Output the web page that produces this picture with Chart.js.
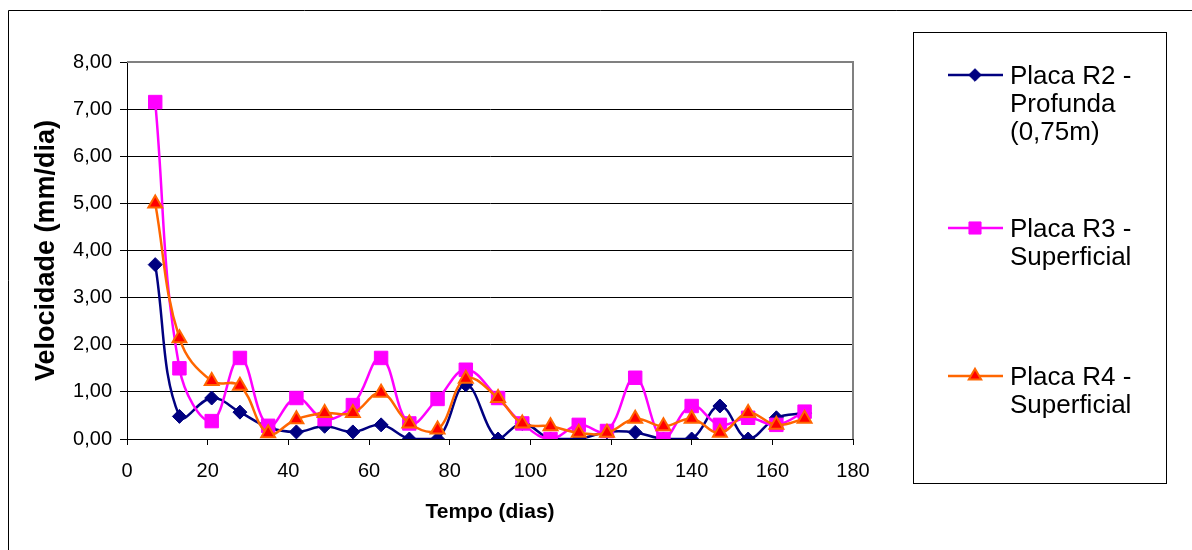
<!DOCTYPE html>
<html>
<head>
<meta charset="utf-8">
<script src="https://cdn.jsdelivr.net/npm/chart.js@4/dist/chart.umd.min.js"></script>
<style>
  body { margin: 0; background: #fff; }
  canvas { display: block; }
</style>
</head>
<body>
<canvas id="chart" width="1192" height="550"></canvas>
<script>
// tempo (dias)
var days = [7, 13, 21, 28, 35, 42, 49, 56, 63, 70, 77, 84, 92, 98, 105, 112, 119, 126, 133, 140, 147, 154, 161, 168];

// velocidade (mm/dia)
var r2 = [3.70, 0.48, 0.87, 0.57, 0.25, 0.15, 0.27, 0.15, 0.30, 0.00, 0.00, 1.15, 0.00, 0.33, 0.00, 0.00, 0.15, 0.14, 0.00, 0.00, 0.70, 0.00, 0.45, 0.55];
var r3 = [7.15, 1.50, 0.38, 1.72, 0.28, 0.87, 0.42, 0.72, 1.72, 0.33, 0.85, 1.47, 0.87, 0.33, 0.00, 0.30, 0.17, 1.30, 0.00, 0.70, 0.30, 0.45, 0.30, 0.58];
var r4 = [5.00, 2.14, 1.23, 1.13, 0.12, 0.42, 0.55, 0.55, 0.98, 0.33, 0.20, 1.28, 0.87, 0.33, 0.27, 0.13, 0.13, 0.43, 0.27, 0.43, 0.13, 0.55, 0.30, 0.43];

var labelsR2 = ['Placa R2 -', 'Profunda', '(0,75m)'];
var labelsR3 = ['Placa R3 -', 'Superficial'];
var labelsR4 = ['Placa R4 -', 'Superficial'];

Chart.defaults.font.family = "'Liberation Sans', Arial, sans-serif";
Chart.defaults.color = '#000';

function pts(vals) {
    return vals.map(function(v, i) { return { x: days[i], y: v }; });
}

var series = [
    { text: labelsR2, data: r2, line: '#000080', fill: '#000080', style: 'rectRot', radius: 7, bw: 1, order: 2, ly: 75 },
    { text: labelsR3, data: r3, line: '#FF00FF', fill: '#FF00FF', style: 'rect', radius: 9.5, bw: 1, order: 1, ly: 228 },
    { text: labelsR4, data: r4, line: '#FF6600', fill: '#FF0000', style: 'triangle', radius: 8, bw: 2, order: 0, ly: 376 }
];

var frame = {
    id: 'frame',
    beforeDraw: function(chart) {
        var ctx = chart.ctx;
        ctx.save();
        ctx.fillStyle = '#fff';
        ctx.fillRect(0, 0, chart.width, chart.height);
        ctx.strokeStyle = '#000';
        ctx.lineWidth = 1;
        ctx.beginPath();
        ctx.moveTo(8.5, 560);
        ctx.lineTo(8.5, 10.5);
        ctx.lineTo(1200, 10.5);
        ctx.stroke();
        ctx.restore();
    },
    beforeDatasetsDraw: function(chart) {
        var a = chart.chartArea, ctx = chart.ctx;
        ctx.save();
        ctx.strokeStyle = '#808080';
        ctx.lineWidth = 2;
        ctx.beginPath();
        ctx.moveTo(a.left, a.top);
        ctx.lineTo(a.right, a.top);
        ctx.lineTo(a.right, a.bottom);
        ctx.stroke();
        ctx.restore();
    },
    afterDraw: function(chart) {
        var ctx = chart.ctx;
        ctx.save();
        ctx.strokeStyle = '#000';
        ctx.lineWidth = 1;
        ctx.strokeRect(913.5, 32.5, 253, 451);
        ctx.font = "26px 'Liberation Sans', Arial, sans-serif";
        ctx.textBaseline = 'middle';
        ctx.textAlign = 'left';
        series.forEach(function(s) {
            ctx.strokeStyle = s.line;
            ctx.lineWidth = 2.5;
            ctx.beginPath();
            ctx.moveTo(948, s.ly);
            ctx.lineTo(1003, s.ly);
            ctx.stroke();
            ctx.fillStyle = s.fill;
            ctx.lineWidth = s.bw;
            Chart.helpers.drawPoint(ctx, { pointStyle: s.style, radius: s.radius * 0.9, rotation: 0, borderWidth: s.bw }, 975, s.ly);
            ctx.fillStyle = '#000';
            s.text.forEach(function(t, i) {
                ctx.fillText(t, 1010, s.ly + 2 + i * 28);
            });
        });
        ctx.restore();
    }
};

var datasets = series.map(function(s) {
    return {
        label: s.text.join(' '),
        data: pts(s.data),
        borderColor: s.line,
        backgroundColor: s.fill,
        borderWidth: 2.5,
        tension: 0.4,
        pointStyle: s.style,
        pointRadius: s.radius,
        pointBorderColor: s.line,
        pointBackgroundColor: s.fill,
        pointBorderWidth: s.bw,
        order: s.order
    };
});

new Chart(document.getElementById('chart'), {
    type: 'line',
    data: { datasets: datasets },
    options: {
        responsive: false,
        animation: false,
        layout: { padding: { left: 10, right: 339, top: 62, bottom: 0 } },
        plugins: { legend: { display: false }, tooltip: { enabled: false } },
        scales: {
            x: {
                type: 'linear',
                min: 0,
                max: 180,
                afterFit: function(s) { s.height = 111; },
                ticks: { stepSize: 20, padding: 14, font: { size: 20 }, color: '#000' },
                grid: { drawOnChartArea: false, tickLength: 6, color: '#000' },
                border: { color: '#000', width: 1 },
                title: { display: true, text: 'Tempo (dias)', font: { size: 21, weight: 'bold' }, color: '#000', padding: { top: 4, bottom: 25 } }
            },
            y: {
                min: 0,
                max: 8,
                afterFit: function(s) { s.width = 117; },
                ticks: {
                    stepSize: 1,
                    padding: 8,
                    font: { size: 20 },
                    color: '#000',
                    callback: function(v) { return v.toFixed(2).replace('.', ','); }
                },
                grid: { color: '#000', lineWidth: 1, tickLength: 7 },
                border: { color: '#000', width: 1 },
                title: { display: true, text: 'Velocidade (mm/dia)', font: { size: 27, weight: 'bold' }, color: '#000', padding: { top: 20, bottom: 0 } }
            }
        }
    },
    plugins: [frame]
});
</script>
</body>
</html>
